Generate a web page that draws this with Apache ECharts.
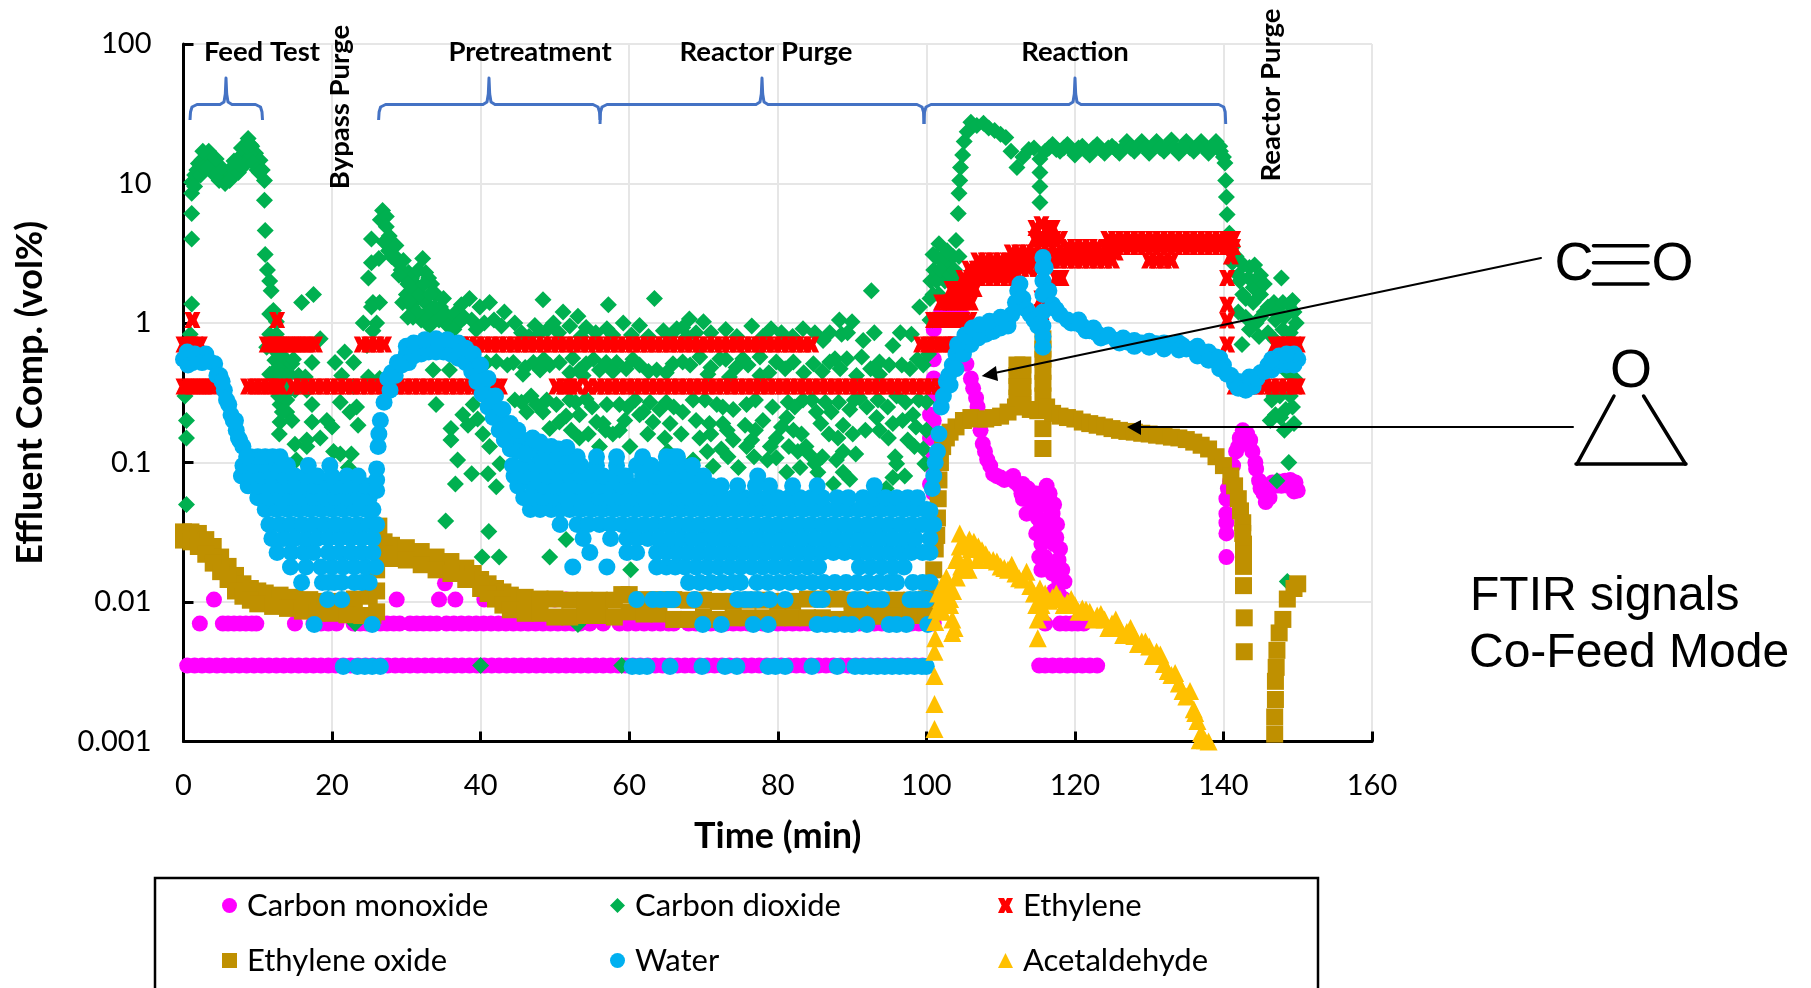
<!DOCTYPE html>
<html><head><meta charset="utf-8">
<script src="https://cdn.jsdelivr.net/npm/echarts@6/dist/echarts.min.js"></script>
<style>html,body{margin:0;padding:0;background:#fff}#c{width:1811px;height:988px}</style>
</head><body><div id="c"></div>
<script>
const xTickStep = 20;
const yTickLabels = ['0.001','0.01','0.1','1','10','100'];
const seriesNames = ['Carbon monoxide','Carbon dioxide','Ethylene','Ethylene oxide','Water','Acetaldehyde'];

// Carbon monoxide: quantised detector levels (times read per level) + the reaction trace
const coAt0035 = [0.5,1.5,2.5,3.5,4.5,5.5,6.5,7.5,8.5,9.5,10.5,11.5,12.5,13.5,14.5,15.5,16.5,17.5,18.5,19.5,20.5,21.5,22.5,23.5,24.5,25.5,26.5,27.5,28.5,29.5,30.5,31.5,32.5,33.5,34.5,35.5,36.5,37.5,38.5,39.5,40.5,41.5,42.5,43.5,44.5,45.5,46.5,47.5,48.5,49.5,50.5,51.5,52.5,53.5,54.5,55.5,56.5,57.5,58.5,59.5,60.5,61.5,62.5,63.5,64.5,65.5,66.5,67.5,68.5,69.5,70.5,71.5,72.5,73.5,74.5,75.5,76.5,77.5,78.5,79.5,80.5,81.5,82.5,83.5,84.5,85.5,86.5,87.5,88.5,89.5,90.5,91.5,92.5,93.5,94.5,95.5,96.5,97.5,98.5,99.5,115.2,116,117,118,119,120,121,122,123];
const coAt007 = [2.2,5.3,6,6.8,7.6,8.4,9.2,9.8,15,17.5,18.5,19.5,20.6,22.9,23.8,24.7,25.6,26.5,27.4,28.3,29.1,30.5,31.4,32.3,33.2,34.1,35.4,36.4,37.4,38.4,39.4,40.4,41.4,42.4,43.4,44.4,45.4,46.4,47.4,48.4,49.4,50.4,51.4,52.4,53.4,54.7,56.5,58.7,59.8,60.9,62,63.1,64.2,65.3,66,68,69,70,71,72,73,74,75,76,77,78,79,80,81,82,83,84,85,86,87,88,89,90,91,92,93,94,95,96,97,98,99,100,101,116,118,118.8,119.6,120.4,121.2];
const coAt0104 = [4.1,28.7,34.4,36.6,40.5,47,48.5,50,51.5,118.6];
const coTrace = [[35.2,0.0136],[100.5,0.22],[100.5,0.15],[100.5,0.07],[101,0.9],[101,0.7],[101,0.55],[101,0.4],[101,0.3],[101,0.2],[101,0.15],[101,0.11],[101,0.085],[101,0.06],[102,1.2],[103,1.2],[104,1.2],[105,1.1],[105.4,0.51],[106,0.4],[106.7,0.29],[107,0.21],[107.6,0.136],[108.2,0.105],[109,0.083],[110,0.078],[111.2,0.0766],[112,0.072],[113,0.07],[113.5,0.055],[113.5,0.043],[114.2,0.045],[114.8,0.06],[114.8,0.031],[115.2,0.021],[115.8,0.05],[116.6,0.06],[117,0.043],[116,0.032],[115.5,0.026],[117.5,0.029],[117.6,0.036],[118,0.024],[118.3,0.017],[117,0.016],[117.8,0.02],[118.6,0.014],[140.4,0.021],[140.4,0.031],[140.4,0.037],[140.4,0.043],[140.4,0.055],[140.9,0.0735],[141.3,0.095],[141.7,0.12],[142.2,0.15],[142.6,0.17],[143.2,0.16],[143.9,0.12],[144.4,0.09],[144.8,0.074],[145.4,0.06],[146.2,0.056],[146.6,0.072],[147.4,0.073],[148.3,0.074],[149,0.075],[149.7,0.072],[150,0.063]];
const coTraceThick = [[106.3,0.34],[106.9,0.25],[107.3,0.17],[107.9,0.12],[108.6,0.095],[109.5,0.08],[110.5,0.075],[111.7,0.08],[112.5,0.068],[113,0.055],[112.8,0.06],[113.7,0.065],[114.3,0.06],[114.5,0.05],[115,0.04],[115.2,0.05],[116,0.052],[116.2,0.068],[117.2,0.05],[115.4,0.037],[116.5,0.04],[116.3,0.029],[117,0.035],[116,0.021],[115.5,0.017],[116.6,0.018],[117.2,0.026],[117.9,0.014],[117.2,0.012],[117.8,0.0115],[118.2,0.0107],[142,0.13],[143.5,0.14],[145.7,0.052],[147,0.068],[147.8,0.068],[148.7,0.068],[149.5,0.062],[140.6,0.065],[141,0.085],[143.6,0.145],[144.3,0.1],[145,0.065]];

// Carbon dioxide
const co2 = [[0.2,0.3],[0.4,0.2],[0.4,0.15],[0.4,0.05],[0.9,0.83],[1.1,1.37],[1.1,4],[1.1,6.1],[1.1,8.5],[1.1,10.2],[1.5,11.5],[2,13.9],[2.5,14.8],[3,15.4],[3.5,15],[4,14],[4.6,12.5],[5.3,11],[5.9,11.5],[6.5,13],[7.2,14.7],[7.6,15.5],[8.1,17.5],[8.7,21],[9.2,18.5],[9.7,16.5],[10.3,14.7],[10.6,12.5],[10.9,10.5],[10.9,7.6],[11,4.6],[11,3.1],[11.3,2.4],[11.6,2],[11.8,1.7],[12.1,1.23],[12.5,1.02],[11.6,1.16],[11.6,0.83],[12.5,0.83],[11.2,0.67],[12.3,0.54],[13.9,0.54],[11.6,0.43],[13.4,0.46],[14.6,0.51],[14.3,0.43],[13,0.26],[13.9,0.28],[15,0.33],[13.9,0.23],[13,0.195],[12.6,0.38],[13.5,0.38],[13,0.32],[17.3,0.26],[15.9,1.4],[17.5,1.6],[18.4,0.77],[17.3,0.52],[16.4,0.41],[16.6,0.33],[20.4,0.52],[21.7,0.62],[22.9,0.52],[21.3,0.42],[24.9,0.41],[26.4,0.4],[22.9,0.35],[23.3,0.25],[22.4,0.23],[21.1,0.27],[17.3,0.195],[19.3,0.2],[18.4,0.15],[20,0.18],[23.5,0.185],[15,0.135],[16.6,0.13],[16.6,0.145],[20.2,0.12],[21.1,0.115],[22.6,0.115],[15.2,0.104],[22.2,0.092],[24.2,1],[26,1],[24.7,0.69],[25.5,1.4],[26.4,1.4],[25.5,0.88],[23.1,0.007],
[25.3,1.3],[24.9,2.1],[25.3,2.7],[26.3,2.9],[25.3,4],[26.5,5.5],[26.8,6.4],[27.3,5.8],[27.3,4.9],[27.6,3.3],[27.7,4.2],[28.2,3.5],[28.5,3],[28.9,2.7],[29.3,2.4],[29.8,2.1],[30,1.6],[30.3,2.3],[30.7,2.1],[31.2,1.9],[31.6,2.4],[32.2,2.9],[32.6,2.3],[33,2.1],[33.4,1.9],[34,1.6],[33.1,1.1],[31.5,1.5],[32.5,1.4],[29.5,1.4],[30.8,1.3],[34.6,1.3],[34,1.1],[35.3,1.15],[36,1.05],[36.7,1.2],[32,1.05],[33.2,1.25],
[38.5,1.5],[37.4,1.35],[39.9,1.3],[41.2,1.4],[48.4,1.47],[51.1,1.2],[57.2,1.35],[63.4,1.5],[53.1,1.12],[30.9,1.1],[35,1.2],[33.1,0.95],[37.2,1.02],[43.2,1.2],[44.6,1],[47.3,0.96],[49.8,1],[54.2,0.93],[59.2,1],[61.4,0.96],[57,0.91],[64.6,0.88],[66.4,0.91],[40.8,0.52],[42.1,0.53],[44.4,0.52],[47.1,0.52],[49.3,0.5],[52,0.44],[54.2,0.51],[56.9,0.52],[59.6,0.47],[61.4,0.5],[63.7,0.46],[65.9,0.51],[45.7,0.43],[48,0.46],[52.4,0.56],[56,0.46],[58.3,0.52],[33.6,0.46],[35.8,0.46],[53.3,0.46],[34,0.26],[39,0.26],[37.6,0.22],[39.6,0.205],[38.3,0.185],[36,0.175],[40.3,0.16],[36,0.145],[41.2,0.13],[36.9,0.104],[42.6,0.098],[38.8,0.083],[41,0.083],[44.8,0.078],[36.6,0.07],[42.1,0.067],[35.3,0.038],[41.1,0.032],[51.5,0.028],[40.2,0.021],[42.5,0.021],[49.3,0.021],[60.2,0.017],[46.2,0.23],[47.5,0.26],[48.4,0.23],[50.6,0.195],[51.5,0.215],[49.3,0.175],[53.3,0.22],[55.6,0.195],[54.2,0.285],[56.5,0.19],[58.7,0.26],[57.8,0.16],[60.1,0.13],[56,0.13],[61.9,0.23],[64.1,0.24],[63.2,0.195],[65.5,0.19],[65.2,0.12],[61.4,0.22],[53.3,0.15],[58.7,0.17],[52,0.28],[44.6,0.28],[53.1,0.0069],[40,0.0035],[59,0.0035],
[68.1,1.07],[70,1.02],[67.2,0.93],[79.1,0.91],[83.4,0.91],[88.3,1.05],[90,1.02],[88.6,0.83],[98,0.83],[86.1,0.75],[91.5,0.75],[95.5,0.69],[100.5,1.05],[99.1,1.3],[100.5,1.5],[92.6,1.7],[69.5,0.57],[72.2,0.555],[75.3,0.555],[77.6,0.57],[79.8,0.525],[82.1,0.525],[84.8,0.51],[87.7,0.555],[89.3,0.555],[91.3,0.57],[93.7,0.525],[96.7,0.5],[99.6,0.5],[70.6,0.43],[73.5,0.41],[77.6,0.42],[90.6,0.42],[93.7,0.43],[87,0.525],[67.2,0.525],[67.2,0.23],[75.8,0.26],[72.6,0.25],[81.4,0.27],[83.4,0.28],[85.2,0.23],[93.5,0.28],[91,0.29],[96,0.3],[100,0.27],[87.2,0.23],[89.7,0.24],[93.3,0.21],[98.2,0.22],[72.6,0.19],[70.8,0.19],[75.6,0.185],[78,0.2],[81.2,0.21],[83.2,0.16],[88.8,0.185],[90.1,0.16],[88.1,0.15],[94.9,0.15],[69.5,0.15],[74,0.145],[76.5,0.145],[79.8,0.15],[82.1,0.17],[72.4,0.125],[75.8,0.13],[97.5,0.145],[99.6,0.125],[82.7,0.12],[88.8,0.12],[78.6,0.104],[79.8,0.108],[85,0.098],[71.3,0.094],[74.7,0.092],[87.9,0.104],[96,0.098],[99.8,0.098],[81.2,0.085],[83,0.092],[85.4,0.085],[88.8,0.085],[89.7,0.076],[97.1,0.08],[95.5,0.078],[87.5,0.07],[94.6,0.065],[68.6,0.104],
[100.3,0.6],[100.6,2],[100.8,1.05],[101,2.4],[101.3,3],[101.7,3.7],[102,2.8],[102.5,2],[103,2.6],[103.3,1.5],[103.6,3],[104,3.9],[104.2,2.1],[104.3,6.1],[104.4,8.5],[104.5,10.5],[104.6,13],[104.9,16],[105.1,20],[105.5,23.5],[106,27.5],[106.8,26],[107.7,27],[108.4,25],[109.2,24],[110,22.5],[110.7,21.4],[111.4,17],[112.2,13],[113,15.5],[113.8,17.5],[114.5,18],[115.3,15],[115.3,12],[115.3,9.5],[115.3,7.3],[116,17],[117,19],[118,17],[119,19],[120,16],[121,18.5],[122,16],[123,19],[124,16.5],[125,18.5],[126,16.5],[127,20],[128,17],[129,20],[130,16.5],[131,20],[132,17],[133,20.5],[134,16.5],[135,20],[136,17],[137,20],[138,16.5],[139,20],[139.6,17],[140,15.5],[140.2,14],[140.3,10.5],[140.4,8],[140.5,6],[140.8,4.4],[141.2,3.5],[141.7,3],[141.2,2.7],[142,2.2],[142.7,2.6],[143.5,2.5],[144.2,2.6],[145,2.2],[143,1.5],[144,1.8],[145,1.6],[145.5,1.2],[147.8,2.1],[146.8,1.4],[148.2,1.1],[149.3,1.45],[149.8,1],[149,0.85],[148.2,0.7],[143,1.1],[144.4,1],[142.5,0.7],[146,0.85],[147,1.05],[146.3,0.2],[148.8,0.1],[147.2,0.074],[148.6,0.014],[148.2,0.17],[149.5,0.19],[147.6,0.3],[146.5,0.28],[148.4,0.24],[147.7,0.21],[146.8,0.3]];
const co2Ridges = [[1.5,9.5],[1.8,12.5],[2.3,11.5],[2.7,13],[3.2,13],[3.7,12.5],[4.2,11.5],[4.8,10.5],[5.6,10],[6.2,10.5],[6.8,11.5],[7.4,12],[7.9,13],[8.4,14],[8.9,16.5],[9.4,14],[9.9,12.5],[10.2,12],[5.1,13],[4.4,15],[3.4,17],[2.6,17],[6.8,14.5],[7.8,18],[8.5,18.5],[9,19],[27,3.8],[28,3],[28.6,3.6],[29,2.2],[29.6,2.8],[30.2,1.9],[30.4,1.45],[31,1.7],[31.8,1.6],[32.4,1.9],[33.2,1.6],[33.8,1.3],[34.4,1.05],[35,1.5],[35.6,0.95],[36.4,0.9],[37.8,1.1],[38.8,1.05],[39.4,0.9],[40.5,1],[41.8,1.05],[42.8,0.95],[32.6,1.15],[31.4,1.2],[30.2,1.1],[12.8,0.7],[12.1,0.65],[13,0.6],[13.5,0.7],[12.7,0.48],[13.2,0.42],[12.8,0.3],[14.2,0.33],[13.3,0.23],[12.9,0.16],[14.6,0.2],[15.5,0.42],[14.8,0.55],[116.5,18],[117.5,17.5],[118.5,18],[119.5,17.5],[120.5,18],[121.5,17],[122.5,18],[123.5,17.5],[124.5,18],[125.5,17.5],[126.5,18],[127.5,18],[128.5,18.5],[129.5,18],[130.5,18.5],[131.5,18],[132.5,18.5],[133.5,18],[134.5,18.5],[135.5,18],[136.5,18.5],[137.5,18],[138.5,18.5],[139.5,18.5],[101.4,2],[101.9,2.4],[102.3,3],[102.8,3.3],[103.2,2.2],[103.8,2.4],[101.7,1.6],[102.7,1.4],[100.9,1.6],[104.4,3],[100.9,3.1],[142.2,2],[143.4,2.1],[144.6,2.1],[145.5,1.9],[144,1.4],[145,1.1],[146,1.3],[147.2,1.2],[148,1.4],[148.8,1.35],[149.5,1.2],[147,0.75],[148,0.9],[149.5,0.7],[143.5,0.9],[144.8,0.8],[142,1.2],[142.6,1.6],[146.5,0.5],[147.5,0.5],[148.5,0.45],[149,0.3],[149.3,0.25],[147,0.22],[149.6,0.4]];
const co2Cloud = [[45.5,0.85],[46.5,0.8],[48,0.85],[49,0.9],[50.5,0.85],[52,0.95],[53.5,0.8],[55.5,0.85],[57.8,0.82],[60.3,0.82],[62.6,0.8],[65.5,0.8],[67.8,0.8],[69,0.85],[71,0.85],[73,0.9],[74.5,0.8],[76.5,0.95],[78,0.8],[80.5,0.85],[82,0.8],[85,0.85],[87,0.85],[89.4,0.85],[93,0.85],[96.5,0.85],[43.6,0.5],[46,0.48],[48.5,0.55],[50.6,0.52],[53.8,0.42],[55.2,0.55],[57.8,0.45],[60.5,0.55],[62.6,0.45],[65,0.44],[68.2,0.5],[71,0.48],[73,0.55],[74.4,0.48],[76,0.5],[78.8,0.44],[81,0.47],[83.5,0.44],[86,0.45],[88.4,0.47],[92.5,0.47],[95,0.5],[97.8,0.47],[98.8,0.55],[45.5,0.27],[46.8,0.3],[48.9,0.28],[50.2,0.26],[52.8,0.27],[55,0.25],[57,0.26],[59.8,0.25],[60.8,0.28],[62.8,0.27],[65,0.27],[66,0.25],[68.6,0.28],[70.2,0.28],[71.8,0.26],[74,0.24],[77,0.28],[79.3,0.25],[82.3,0.25],[84.6,0.28],[86.4,0.27],[88.2,0.27],[90.3,0.28],[92,0.25],[94.8,0.25],[97.2,0.27],[99,0.28],[52.2,0.17],[54.5,0.16],[56.8,0.17],[59.4,0.2],[62.5,0.16],[64.8,0.15],[67,0.16],[69,0.2],[71,0.16],[73.2,0.17],[77,0.17],[80.5,0.18],[81.5,0.13],[83.8,0.13],[85.8,0.19],[86.9,0.16],[91.8,0.17],[93.7,0.17],[95.5,0.19],[96.8,0.2],[98.6,0.18],[100,0.17],[70.5,0.12],[73.3,0.11],[76.8,0.11],[79,0.13],[84.2,0.115],[86,0.11],[90.5,0.115],[95.8,0.11],[98.4,0.13]];

// Ethylene: quantised levels, times read per level
const ethyleneAt035 = [0,0.8,1.6,2.4,3.2,4,8.7,9.6,10.5,11.4,12.3,13,14.8,15.8,16.8,17.8,18.8,19.8,20.8,21.8,22.8,23.8,24.8,25.8,26.8,27.8,28.8,29.8,30.8,31.8,32.8,33.8,34.8,35.8,36.8,37.8,38.8,39.8,40.8,41.8,42.6,50.2,51.2,52,53,54.5,55.7,56.7,57.7,58.7,59.7,60.7,61.7,62.7,63.7,64.7,65.7,66.7,67.7,68.7,69.7,70.7,71.7,72.7,73.7,74.7,75.7,76.7,77.7,78.7,79.7,80.7,81.7,82.7,83.7,84.7,85.7,86.7,87.7,88.7,89.7,90.7,91.7,92.7,93.7,94.7,95.7,96.7,97.7,98.7,99.7,100.7,101.8,141.5,142.5,143.5,144.5,145.5,146.5,147.5,148.5,149.5,150];
const ethyleneAt07 = [0,0.8,1.6,2.2,11.2,12,12.8,13.6,14.4,15.2,16,16.8,17.7,24,25,26,27,34.5,35.5,36.5,37.5,38.5,39.5,40.5,41.5,42.5,43.5,44.5,45.5,46.5,47.5,48.5,49.5,50.5,51.5,52.5,53.5,54.5,55.5,56.5,57.5,58.5,59.5,60.5,61.5,62.5,63.5,64.5,65.5,66.5,67.5,68.5,69.5,70.5,71.5,72.5,73.5,74.5,75.5,76.5,77.5,78.5,79.5,80.5,81.5,82.5,83.5,84.5,99.3,100.2,101.1,102,102.8,103.6,104,140.5,147,147.8,148.6,149.4,150];
const ethyleneUpper = [[1.2,1.05],[12.6,1.05],[100.9,1.05],[101.7,1.05],[102.5,1.05],[103.3,1.05],[104.1,1.05],[104.9,1.05],[105.8,1.05],[102,1.4],[102.8,1.4],[103.6,1.4],[104.4,1.4],[105.2,1.4],[106,1.4],[103.4,1.75],[104.2,1.75],[105,1.75],[105.8,1.75],[106.5,1.75],[105,2.1],[106,2.1],[107,2.1],[108,2.1],[109,2.1],[110,2.1],[111,2.1],[112,2.1],[105.8,2.45],[106.8,2.45],[107.8,2.45],[108.8,2.45],[109.8,2.45],[110.8,2.45],[111.8,2.45],[112.8,2.45],[113.8,2.45],[115,2.45],[107,2.8],[108,2.8],[109,2.8],[110,2.8],[111,2.8],[112,2.8],[113,2.8],[114,2.8],[115,2.8],[116,2.8],[117,2.8],[118,2.8],[119,2.8],[120,2.8],[121,2.8],[122,2.8],[123,2.8],[124,2.8],[125,2.8],[111.5,3.2],[112.5,3.2],[113.5,3.2],[114.5,3.2],[115.5,3.2],[116.5,3.2],[117.5,3.2],[118.5,3.2],[119.5,3.2],[120.5,3.2],[121.5,3.2],[122.5,3.2],[123.5,3.2],[124.5,3.2],[125.5,3.2],[130,2.8],[131,2.8],[132,2.8],[133,2.8],[119,3.5],[120,3.5],[121,3.5],[122,3.5],[123,3.5],[124.5,3.5],[125.5,3.5],[126.5,3.5],[127.5,3.5],[128.5,3.5],[129.5,3.5],[130.5,3.5],[131.5,3.5],[132.5,3.5],[133.5,3.5],[134.5,3.5],[135.5,3.5],[136.5,3.5],[137.5,3.5],[138.5,3.5],[139.5,3.5],[140.5,3.5],[141.3,3.5],[114.7,4],[115.5,4],[116.3,4],[117.1,4],[118,4],[124.5,4],[125.5,4],[126.5,4],[127.5,4],[128.5,4],[129.5,4],[130.5,4],[131.5,4],[132.5,4],[133.5,4],[134.5,4],[135.5,4],[136.5,4],[137.5,4],[138.5,4],[139.5,4],[140.5,4],[141.3,4],[114.7,4.8],[115.5,5.1],[116.3,4.8],[117,4.8],[141,3],[140.5,2.1],[140.5,1.35],[140.5,1.04],[117.5,2.1],[118.2,2.1],[115.5,1.5],[115.5,1.2]];

// Ethylene oxide
const eoUpper = [[0,0.0318],[1,0.0318],[2,0.031],[3,0.028],[4,0.025],[5,0.021],[6,0.018],[7,0.0155],[8,0.0135],[9,0.0125],[10,0.012],[11,0.0116],[13,0.0112],[15,0.0108],[17,0.0104],[19,0.0101],[21,0.0101],[23,0.0105],[25,0.011],[26,0.012],[26,0.017],[26.2,0.025],[26.3,0.035],[27,0.027],[28,0.0255],[30,0.0245],[32,0.023],[34,0.021],[36,0.0195],[38,0.0175],[39,0.016],[40,0.0145],[41,0.0135],[42,0.0125],[43,0.0118],[44,0.0112],[46,0.0108],[48,0.0105],[50,0.0105],[52,0.0103],[54,0.0103],[56,0.0103],[58,0.0103],[59,0.0113],[60,0.0113],[62,0.0104],[64,0.0104],[66,0.0104],[68,0.0103],[70,0.0103],[72,0.0101],[74,0.0101],[76,0.0103],[78,0.0103],[80,0.0101],[82,0.0101],[84,0.0105],[86,0.0105],[88,0.0105],[90,0.0103],[92,0.0103],[94,0.0103],[96,0.0103],[98,0.0103],[100,0.0105]];
const eoLower = [[0,0.0278],[1,0.027],[2,0.025],[3,0.022],[4,0.019],[5,0.0165],[6,0.0145],[7,0.012],[8,0.011],[9,0.0103],[10,0.0097],[12,0.0093],[14,0.009],[16,0.0086],[18,0.0083],[20,0.0083],[22,0.0081],[24,0.008],[25.5,0.008],[26,0.0085],[27,0.022],[28,0.0205],[30,0.02],[32,0.0185],[34,0.017],[36,0.016],[38,0.0145],[40,0.0125],[41,0.0115],[42,0.0105],[43,0.0095],[44,0.0088],[46,0.0083],[48,0.0083],[50,0.0078],[52,0.0078],[54,0.008],[56,0.008],[58,0.0078],[60,0.0085],[62,0.0082],[64,0.0082],[66,0.0075],[68,0.0075],[70,0.0078],[72,0.0075],[74,0.0077],[76,0.0077],[78,0.0077],[80,0.0077],[82,0.0077],[84,0.0077],[86,0.0077],[88,0.0075],[90,0.0079],[92,0.0079],[94,0.0079],[96,0.0079],[98,0.008],[100,0.008]];
const eoReaction = [[100.5,0.0125],[101,0.017],[101.2,0.024],[101.4,0.03],[101.5,0.04],[101.6,0.055],[101.7,0.075],[101.9,0.1],[102.2,0.13],[102.7,0.15],[103.2,0.165],[104,0.18],[105,0.2],[106,0.21],[107,0.205],[108,0.205],[109,0.21],[110,0.215],[111,0.23],[112,0.25],[112.2,0.5],[112.2,0.42],[112.2,0.35],[112.2,0.29],[113,0.5],[113,0.42],[113,0.35],[113,0.29],[113,0.26],[114,0.24],[115,0.235],[115.7,0.77],[115.7,0.65],[115.7,0.55],[115.7,0.45],[115.7,0.37],[115.7,0.3],[116.2,0.25],[115.7,0.175],[115.7,0.126],[117,0.225],[118,0.215],[119,0.21],[120,0.205],[121,0.195],[122,0.19],[123,0.185],[124,0.18],[125,0.175],[126,0.17],[127,0.167],[128,0.165],[129,0.162],[130,0.16],[131,0.157],[132,0.155],[133,0.152],[134,0.15],[135,0.146],[136,0.14],[137,0.133],[138,0.125],[139,0.11],[140,0.095],[141,0.08],[141.5,0.068],[142,0.055],[142.3,0.045],[142.6,0.037],[142.6,0.031],[142.7,0.026],[142.7,0.022],[142.7,0.018],[142.7,0.0131],[142.8,0.0077],[142.8,0.0044],[146.9,0.00113],[146.9,0.0015],[147,0.002],[147,0.0027],[147.1,0.0034],[147.2,0.0045],[147.5,0.006],[148,0.0075],[148.6,0.0105],[149.5,0.0125],[150,0.0135]];

// Water: the continuous traces, then the noisy band read as rows
const waterTrace = [[0,0.55],[0.6,0.5],[1.2,0.52],[2,0.58],[3,0.6],[4.2,0.51],[4.9,0.42],[5.5,0.33],[6.1,0.26],[6.7,0.2],[7.1,0.17],[7.6,0.143],[26,0.063],[26,0.075],[26,0.09],[26.2,0.13],[26.3,0.16],[26.5,0.2],[27,0.27],[27.5,0.4],[28,0.44],[28.8,0.52],[30,0.6],[31,0.66],[32,0.7],[33,0.71],[34,0.7],[34.7,0.7],[36,0.67],[37.2,0.63],[38,0.58],[39,0.51],[39.7,0.44],[40.3,0.37],[41,0.3],[41.7,0.25],[42.6,0.2],[43.5,0.17],[44.6,0.15],[46,0.143],[47,0.135],[48.5,0.125],[100.5,0.045],[100.8,0.065],[101,0.08],[101.2,0.1],[101.5,0.12],[101.7,0.16],[102,0.25],[102.3,0.3],[102.7,0.38],[103,0.42],[103.5,0.5],[104,0.6],[104.5,0.66],[105,0.72],[106,0.82],[107,0.88],[108,0.93],[109,0.97],[110,1],[111,1.05],[111.5,1.15],[112,1.4],[112.3,1.7],[112.6,1.9],[113,1.5],[113.5,1.25],[114,1.15],[114.5,1.05],[115,0.95],[115.7,2.95],[115.7,2.5],[115.7,2],[115.7,1.6],[115.7,1.2],[115.7,0.95],[115.7,0.8],[115.7,0.67],[116,2.5],[116.5,1.7],[117,1.35],[117.5,1.25],[118,1.15],[119,1.05],[120,1],[121,0.95],[122,0.88],[123,0.84],[124,0.8],[125.6,0.75],[127,0.73],[129,0.72],[131,0.71],[133,0.7],[134.5,0.69],[136,0.65],[137.5,0.61],[139,0.57],[140,0.5],[141,0.42],[142,0.38],[142.6,0.367],[143.4,0.37],[144,0.38],[145,0.44],[146,0.5],[147,0.53],[148,0.55],[149,0.55],[150,0.55]];
const waterThick = [[119.5,1.0],[120.5,1.05],[121.5,0.88],[122.5,0.92],[123.5,0.78],[124.5,0.82],[126,0.72],[126.5,0.78],[128,0.75],[128,0.68],[130,0.74],[130,0.67],[132,0.72],[132,0.65],[134,0.72],[134,0.64],[135,0.65],[136.5,0.68],[136.5,0.58],[138,0.62],[138,0.54],[139.5,0.56],[139.5,0.47],[140.5,0.43],[141.5,0.37],[142,0.34],[143,0.33],[144,0.35],[143.5,0.41],[144.5,0.4],[145.5,0.45],[146.5,0.46],[147.5,0.5],[148.5,0.5],[149.5,0.5],[149.5,0.6],[148.5,0.6],[147.5,0.58],[146.5,0.55],[103.2,0.36],[104,0.47],[105,0.6],[106,0.7],[107,0.78],[108,0.83],[109,0.87],[110,0.92],[111,0.95],[104.2,0.7],[105.2,0.82],[106.2,0.92],[107.2,0.97],[108.5,1.03],[110,1.1],[0.5,0.62],[1.5,0.6],[2.5,0.52],[3.5,0.53],[4.5,0.42],[5.2,0.38],[5.8,0.28],[6.4,0.22],[7,0.2],[7.4,0.15],[8,0.13],[8.5,0.11],[27.8,0.33],[28.5,0.42],[29.4,0.5],[30.3,0.52],[31,0.58],[32,0.6],[33,0.62],[34,0.62],[35,0.62],[36,0.6],[37,0.56],[38,0.52],[38.8,0.45],[39.5,0.38],[40.2,0.31],[41,0.25],[41.7,0.21],[42.5,0.17],[43.2,0.145],[44,0.125],[45,0.12],[46,0.115],[30,0.68],[31,0.72],[32.5,0.76],[34,0.77],[35.5,0.76],[37,0.72],[38,0.66],[39,0.6],[40,0.5],[41,0.4],[42,0.3],[43,0.24],[44,0.19],[45,0.17],[47,0.15],[48,0.14],[49.5,0.13],[50.5,0.125],[51.6,0.128]];
const waterAt011 = [9,10,11,12,13,48,49.5,51.6,53,55.6,58.3,61.8,65,66.5,66];
const waterAt0095 = [8,9.5,11,12.5,14,16.8,19.7,44.3,46,47.5,49,50.5,52,53.5,55.6,58.3,61,63,65,67,68.5];
const waterAt008 = [7.8,9,10.5,12,13.5,15,16.5,18,20,22,23.5,44.5,46,47.5,49,50.5,52,53.5,55,56.5,58,59.5,61.8,63.5,65,66.5,68,70,77.3];
const waterAt0068 = [8.7,10,11.5,13,14.5,16,17.5,19,20.5,22,23.5,24.5,45,47,48.5,50,51.5,53,54.5,56,57.5,59,60.5,62,63.5,65,66.5,68,69.7,71,72.4,74.6,77,78.9,82,85.3,93];
const waterAt0056 = [10,11.5,13,14.5,16,17.5,19,20.5,22,23.5,25,45.8,47,48.5,50,51.5,53,54.5,56,57.5,59,60.5,62,63.5,65,66.5,68,69.5,71,72.5,74,75.5,77,78.5,80,81.5,83,84.5,86,88,89.5,91.5,93,94.5,96,97.5,98.8];
const waterAt0046 = [11,12.5,14,15.5,17,18.5,20,21.5,23,24.5,25.5,46.7,48,49.5,50.7,52,53.5,55,56.5,58,59.5,61,62.5,64,65.5,67,68.5,70,71.5,73,74.5,76,77.5,79,80.5,82,83.5,85,86.5,88,89.5,91,92.5,94,95.5,97,98.5,100];
const waterAt0036 = [11.5,13,14.5,16,17.5,19,20.5,22,23.5,25,26,50.7,53,54.5,56,57.5,59,60.5,62,63.5,65,66.5,68,69.5,71,72.5,74,75.5,77,78.5,80,81.5,83,84.5,86,87.5,89,90.5,92,93.5,95,96.5,98,99.5,101];
const waterAt00285 = [11.9,13.5,15,16.5,18,19.5,21,22.5,24,25.5,53.8,57.5,59.7,61,62.5,64,65.5,67,68.5,70,71.5,73,74.5,76,77.5,79,80.5,82,83.5,85,86.5,88,89.5,91,92.5,94,95.5,97,98.5,100.5];
const waterAt00226 = [12.6,14.5,16.2,17.5,19.5,21,22.5,24,25.5,54.7,59.7,61,63.7,65,66.5,68,69.5,71,72.5,74,75.5,77,78.5,80,81.5,83,84.5,86,87.5,89,90.5,92,93.5,95,96.5,98,99.5,100.5];
const waterAt00178 = [14.4,16.5,18.5,20,21.5,23,24.5,25.9,52.4,57,63.7,65,66.2,67.5,69,70.5,72,73.5,75,76.5,78,79.5,81,82.5,84,85.5,91,92.5,94,95.5,97];
const waterAt00138 = [15.9,18.7,19.5,20.3,21.3,23,24,25,68,69.5,71,72.5,74,75,77.2,78.7,80.2,81.7,83.2,84.7,86.2,87.7,89.2,90.7,92.2,93.7,95,96,98.2,99.5,100.5];
const waterAt00104 = [19.4,21.3,61,63.2,64.2,65.2,65.9,68.8,74.6,75.6,76.4,77.3,78.9,81,85.3,86,90.4,91.2,93,94,97.8,98.6,99.3,100];
const waterAt0069 = [17.6,25.4,69.9,72.4,76.7,78.7,85.3,86.5,87.7,89,90,92,95,96,97.3,100.2];
const waterAt00345 = [21.5,23.4,24.4,25.4,26.5,60.4,61.4,62.4,65.5,69.8,72.9,74.5,78.7,79.7,81,84.6,88,90.4,91.4,92.4,93.4,94.4,95.4,96.4,97.4,98.4,99.4,100];

// Acetaldehyde
const acetaldehyde = [[101.1,0.00123],[101.1,0.00186],[101.1,0.00295],[101.1,0.0044],[101.2,0.0055],[101.2,0.0072],[101.4,0.0088],[101.6,0.0115],[102.2,0.0135],[102.7,0.015],[103,0.012],[103.2,0.0095],[103.5,0.0075],[103.5,0.006],[103.8,0.0065],[104.1,0.015],[104.2,0.021],[104.5,0.031],[104.5,0.025],[105,0.017],[105.5,0.02],[106,0.024],[106.4,0.027],[107,0.025],[108,0.022],[109,0.02],[110,0.018],[111,0.017],[112,0.016],[113,0.0145],[114,0.013],[115.3,0.0125],[115,0.0075],[115,0.0055],[115.5,0.0095],[116,0.0115],[117,0.0108],[118,0.0105],[119,0.01],[120,0.0095],[121,0.009],[122,0.0085],[123,0.008],[124,0.0075],[125,0.007],[126,0.0065],[127,0.0061],[128,0.0057],[129,0.0052],[130,0.0048],[131,0.0044],[132,0.0036],[133,0.003],[134,0.0026],[135,0.0021],[136,0.0017],[136.5,0.0014],[137,0.00115],[136.8,0.00102],[137.5,0.00102],[138,0.001]];
const acetaldehydeThick = [[107.5,0.0235],[108.5,0.02],[109.5,0.0195],[110.5,0.0175],[111.5,0.0185],[112.5,0.0148],[113.5,0.0165],[114.5,0.0115],[114.8,0.0095],[115.6,0.0085],[116.5,0.0102],[117.5,0.0115],[118.5,0.0095],[119.5,0.0105],[120.5,0.0085],[121.5,0.0088],[122.5,0.0075],[123.5,0.0082],[124.5,0.0065],[125.5,0.0075],[126.5,0.0058],[127.5,0.0065],[128.5,0.005],[129.5,0.0052],[130.5,0.0041],[131.5,0.0042],[132.5,0.0032],[133.5,0.0031],[134.5,0.0023],[135.5,0.0023],[136.2,0.0016],[103.2,0.0105],[103.6,0.012],[104,0.02],[104.7,0.018],[105.2,0.026],[105.7,0.017],[105.8,0.028],[106.9,0.02],[102.5,0.012],[102,0.0105],[102.2,0.0085],[101.8,0.0095]];

const rows = (times, level) => times.map(t => [t, level]);
const coData = [...rows(coAt0035,0.0035),...rows(coAt007,0.007),...rows(coAt0104,0.0104),...coTrace,...coTraceThick];
const co2Data = [...co2,...co2Ridges,...co2Cloud];
const ethyleneData = [...rows(ethyleneAt035,0.35),...rows(ethyleneAt07,0.7),...ethyleneUpper];
const eoData = [...eoUpper,...eoLower,...eoReaction];
const waterData = [...rows(waterAt00345,0.00345),...rows(waterAt0069,0.0069),...rows(waterAt00104,0.0104),...rows(waterAt00138,0.0138),...rows(waterAt00178,0.0178),...rows(waterAt00226,0.0226),...rows(waterAt00285,0.0285),...rows(waterAt0036,0.036),...rows(waterAt0046,0.046),...rows(waterAt0056,0.056),...rows(waterAt0068,0.068),...rows(waterAt008,0.08),...rows(waterAt0095,0.095),...rows(waterAt011,0.11),...waterTrace,...waterThick];
const acetaldehydeData = [...acetaldehyde,...acetaldehydeThick];

const xMark = 'path://M0 0L4 0L5 2L6 0L10 0L7.6 5L10 10L6 10L5 8L4 10L0 10L2.4 5Z';
const scatter = (name, data, symbol, color, size) => ({name, type:'scatter', data, symbol, symbolSize:size, clip:false, itemStyle:{color, opacity:1}, emphasis:{disabled:true}, silent:true, animation:false, large:false});

const LABEL = 'Lato, Carlito, sans-serif';
const HELV = '"Liberation Sans", Arial, sans-serif';
const BLUE = '#4472C4';
const legendBase = {orient:'vertical', itemWidth:15, itemHeight:15, itemGap:24, selectedMode:false, textStyle:{fontFamily:LABEL, fontSize:31, color:'#000', padding:[0,0,0,5]}};
const brace = (l, c, r, yEnd) => {
  const y = 104.5, p = 78;
  return {type:'polyline', silent:true, shape:{points:[[l,yEnd],[l+0.5,112],[l+2,107],[l+7,y],[c-6,y],[c-2,102],[c-0.7,94],[c,p],[c+0.7,94],[c+2,102],[c+6,y],[r-7,y],[r-2,107],[r-0.5,112],[r,yEnd]]}, style:{stroke:BLUE, lineWidth:3, fill:null, lineJoin:'round'}, z:20};
};
const label = (text, x, y, rot) => ({type:'text', x, y, rotation:rot||0, silent:true, z:30, style:{text, fontFamily:LABEL, fontWeight:'bold', fontSize:27.5, fill:'#000', align:'center', verticalAlign:'middle'}});
const line = (x1,y1,x2,y2,w) => ({type:'line', silent:true, z:30, shape:{x1,y1,x2,y2}, style:{stroke:'#000', lineWidth:w||2, lineCap:'round'}});
const head = pts => ({type:'polygon', silent:true, z:30, shape:{points:pts}, style:{fill:'#000'}});
const big = (text, x, y, size) => ({type:'text', x, y, silent:true, z:30, style:{text, fontFamily:HELV, fontSize:size, fill:'#000', align:'center', verticalAlign:'middle'}});

const chart = echarts.init(document.getElementById('c'), null, {renderer:'canvas'});
chart.setOption({
  animation:false,
  backgroundColor:'#fff',
  grid:{left:183.5, top:44, width:1188.5, height:697.5, containLabel:false},
  xAxis:{type:'value', min:0, max:160, interval:xTickStep, name:'Time (min)', nameLocation:'middle', nameGap:77,
    nameTextStyle:{fontFamily:LABEL, fontWeight:'bold', fontSize:36, color:'#000'},
    axisLine:{onZero:false, lineStyle:{color:'#000', width:3}}, axisTick:{inside:true, length:10, lineStyle:{color:'#000', width:3}},
    axisLabel:{fontFamily:LABEL, fontSize:29, color:'#000', margin:30},
    splitLine:{show:true, lineStyle:{color:'#e6e6e6', width:2}}},
  yAxis:{type:'log', logBase:10, min:0.001, max:100, name:'Effluent Comp. (vol%)', nameLocation:'middle', nameGap:135, nameRotate:90,
    nameTextStyle:{fontFamily:LABEL, fontWeight:'bold', fontSize:36, color:'#000'},
    axisLine:{onZero:false, lineStyle:{color:'#000', width:3}}, axisTick:{inside:true, length:10, lineStyle:{color:'#000', width:3}},
    axisLabel:{fontFamily:LABEL, fontSize:29, color:'#000', margin:32, formatter:v => yTickLabels[Math.round(Math.log10(v))+3]},
    splitLine:{show:true, lineStyle:{color:'#e6e6e6', width:2}}, minorTick:{show:false}, minorSplitLine:{show:false}},
  legend:[
    {...legendBase, left:217, top:885, data:[seriesNames[0],seriesNames[3]]},
    {...legendBase, left:605, top:885, data:[seriesNames[1],seriesNames[4]]},
    {...legendBase, left:993, top:885, data:[seriesNames[2],seriesNames[5]]}
  ],
  series:[
    scatter(seriesNames[0], coData, 'circle', '#FF00FF', 16),
    scatter(seriesNames[1], co2Data, 'diamond', '#00B050', 17),
    scatter(seriesNames[2], ethyleneData, xMark, '#FF0000', 16),
    scatter(seriesNames[3], eoData, 'rect', '#BF9000', 17),
    scatter(seriesNames[4], waterData, 'circle', '#00B0F0', 17),
    scatter(seriesNames[5], acetaldehydeData, 'triangle', '#FFC000', 18)
  ],
  graphic:[
    {type:'rect', silent:true, z:1, shape:{x:155,y:878,width:1163,height:140}, style:{fill:null, stroke:'#000', lineWidth:2.5}},
    brace(190,226,262.5,120), brace(378.6,489,600,120), brace(600,762,924,124), brace(924,1075,1225.7,124),
    label('Feed Test',262,52), label('Pretreatment',530,52), label('Reactor Purge',766,52), label('Reaction',1075,52),
    label('Bypass Purge',340,107,Math.PI/2), label('Reactor Purge',1270.7,95,Math.PI/2),
    line(985,375,1541,258), head([[981.7,376],[996,366],[998,381]]),
    line(1138,427,1573,427), head([[1127,427],[1141,420],[1141,435]]),
    big('C',1574,265,54), big('O',1672.5,265,54),
    line(1593.5,245.7,1648,245.7,3.5), line(1593.5,262.7,1648,262.7,3.5), line(1593.5,284,1648,284,3.5),
    big('O',1631,372,54),
    line(1614,396,1577,464,3.5), line(1643.6,396,1685.4,464,3.5), line(1576,464,1686,464,3.5),
    {type:'text', x:1470, y:597, silent:true, z:30, style:{text:'FTIR signals', fontFamily:HELV, fontSize:48, fill:'#000', align:'left', verticalAlign:'middle'}},
    {type:'text', x:1469, y:654, silent:true, z:30, style:{text:'Co-Feed Mode', fontFamily:HELV, fontSize:48, fill:'#000', align:'left', verticalAlign:'middle'}}
  ]
});
</script></body></html>
